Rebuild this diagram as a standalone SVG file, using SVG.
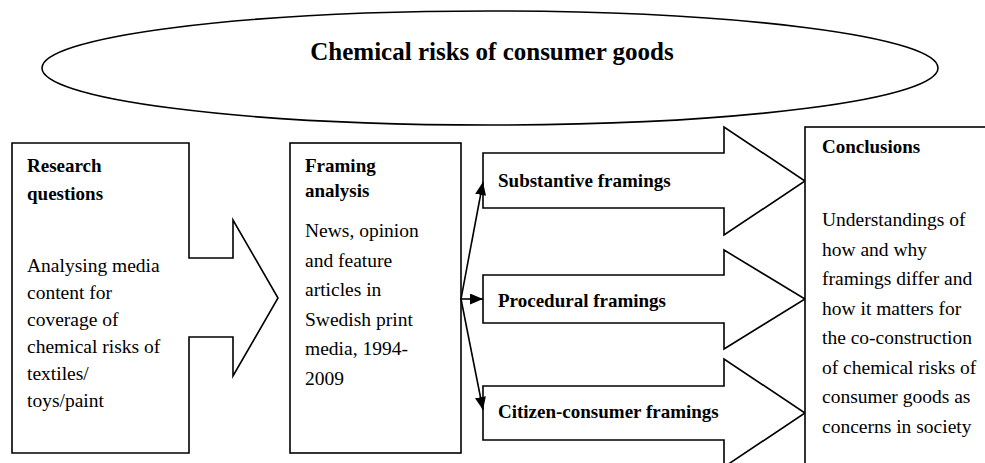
<svg xmlns="http://www.w3.org/2000/svg" width="985" height="463" viewBox="0 0 985 463">
<style>
.shape{fill:#fff;stroke:#000;stroke-width:1.6;stroke-linejoin:miter}
text{font-family:"Liberation Serif","Times New Roman",serif;fill:#000}
.h{font-weight:bold;font-size:19px}
.b{font-size:19.5px}
.t{font-weight:bold;font-size:25px}
.conn{stroke:#000;stroke-width:1.6;fill:none;marker-end:url(#ah)}
</style>
<defs>
<marker id="ah" markerUnits="userSpaceOnUse" markerWidth="13" markerHeight="11" refX="13" refY="5.5" orient="auto">
<path d="M0,0 L13,5.5 L0,11 z" fill="#000"/>
</marker>
</defs>
<rect width="985" height="463" fill="#fff"/>
<g id="title">
<ellipse class="shape" cx="490" cy="68" rx="448" ry="57"/>
<text class="t" x="492" y="60" text-anchor="middle">Chemical risks of consumer goods</text>
</g>
<g id="research">
<polygon class="shape" points="12,143 189,143 189,258 233,258 233,220 278,298 233,376 233,337 189,337 189,453 12,453"/>
<text class="h" x="27" y="172">Research</text>
<text class="h" x="27" y="200">questions</text>
<text class="b" x="27" y="272">Analysing media</text>
<text class="b" x="27" y="299">content for</text>
<text class="b" x="27" y="326">coverage of</text>
<text class="b" x="27" y="353">chemical risks of</text>
<text class="b" x="27" y="380">textiles/</text>
<text class="b" x="27" y="407">toys/paint</text>
</g>
<g id="framing">
<rect class="shape" x="290" y="143" width="171" height="310"/>
<text class="h" x="305" y="172">Framing</text>
<text class="h" x="305" y="197">analysis</text>
<text class="b" x="305" y="237">News, opinion</text>
<text class="b" x="305" y="266.5">and feature</text>
<text class="b" x="305" y="296">articles in</text>
<text class="b" x="305" y="325.5">Swedish print</text>
<text class="b" x="305" y="355">media, 1994-</text>
<text class="b" x="305" y="384.5">2009</text>
</g>
<g id="substantive">
<polygon class="shape" points="483,153 724,153 724,127 805,181 724,235 724,208 483,208"/>
<text class="h" x="498" y="187">Substantive framings</text>
</g>
<g id="procedural">
<polygon class="shape" points="483,275 724,275 724,250 805,299 724,349 724,323 483,323"/>
<text class="h" x="498" y="307">Procedural framings</text>
</g>
<g id="citizen">
<polygon class="shape" points="483,386 724,386 724,359 805,413 724,467 724,440 483,440"/>
<text class="h" x="498" y="418">Citizen-consumer framings</text>
</g>
<g id="conclusions">
<rect class="shape" x="805" y="127" width="200" height="360"/>
<text class="h" x="822" y="153">Conclusions</text>
<text class="b" x="822" y="226">Understandings of</text>
<text class="b" x="822" y="255.5">how and why</text>
<text class="b" x="822" y="285">framings differ and</text>
<text class="b" x="822" y="314.5">how it matters for</text>
<text class="b" x="822" y="344">the co-construction</text>
<text class="b" x="822" y="373.5">of chemical risks of</text>
<text class="b" x="822" y="403">consumer goods as</text>
<text class="b" x="822" y="432.5">concerns in society</text>
</g>
<g id="connectors">
<line class="conn" x1="461" y1="299" x2="483" y2="182"/>
<line class="conn" x1="461" y1="299" x2="483" y2="299"/>
<line class="conn" x1="461" y1="299" x2="483" y2="410"/>
</g>
</svg>
